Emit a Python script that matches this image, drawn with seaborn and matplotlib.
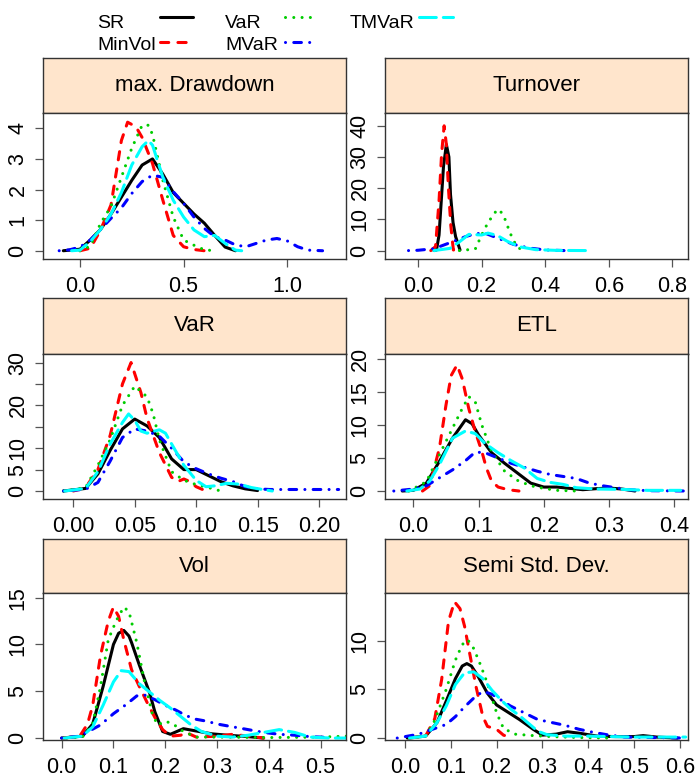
import matplotlib
matplotlib.use("Agg")
import matplotlib.pyplot as plt
from matplotlib.lines import Line2D
import pandas as pd
import seaborn as sns

# ---- strategies, colours and line types -------------------------------
STRATEGIES = ["SR", "MinVol", "VaR", "MVaR", "TMVaR"]
COLORS = ["#000000", "#FF0000", "#00CD00", "#0000FF", "#00FFFF"]
DASHES = ["", (2.7, 3.0), (0.01, 2.7), (0.01, 2.7, 2.5, 2.7), (5.5, 2.3)]

# ---- estimated density curves (x grid, density) per measure --------------
drawdown = {
    "SR": ([-0.08, 0.0, 0.05, 0.1, 0.15, 0.2, 0.25, 0.3, 0.35, 0.4, 0.45, 0.5, 0.55, 0.6, 0.65, 0.7, 0.75],
           [0.0, 0.05, 0.35, 0.7, 1.2, 1.75, 2.3, 2.8, 3.0, 2.5, 1.9, 1.55, 1.2, 0.9, 0.5, 0.12, 0.0]),
    "MinVol": ([0.0, 0.05, 0.1, 0.15, 0.2, 0.23, 0.27, 0.3, 0.35, 0.4, 0.45, 0.5, 0.55, 0.6],
               [0.0, 0.08, 0.68, 1.5, 3.6, 4.2, 4.05, 3.7, 2.85, 1.65, 0.5, 0.13, 0.04, 0.0]),
    "VaR": ([0.0, 0.05, 0.1, 0.15, 0.2, 0.25, 0.3, 0.33, 0.35, 0.4, 0.45, 0.5, 0.55, 0.6, 0.65],
            [0.0, 0.15, 0.9, 1.45, 2.4, 3.35, 4.1, 4.1, 3.8, 2.3, 1.1, 0.35, 0.18, 0.03, 0.0]),
    "MVaR": ([-0.1, -0.05, 0.0, 0.05, 0.1, 0.15, 0.2, 0.25, 0.3, 0.35, 0.4, 0.45, 0.5, 0.55, 0.6, 0.65,
              0.7, 0.75, 0.8, 0.85, 0.9, 0.95, 1.0, 1.05, 1.1, 1.17],
             [0.0, 0.03, 0.12, 0.35, 0.7, 1.06, 1.4, 1.87, 2.26, 2.47, 2.4, 1.93, 1.55, 1.1, 0.73, 0.46,
              0.35, 0.19, 0.13, 0.24, 0.35, 0.4, 0.32, 0.13, 0.02, 0.0]),
    "TMVaR": ([-0.04, 0.0, 0.05, 0.1, 0.15, 0.2, 0.25, 0.3, 0.33, 0.35, 0.4, 0.45, 0.5, 0.55, 0.6, 0.65, 0.7, 0.75, 0.78],
              [0.0, 0.02, 0.3, 0.7, 1.2, 1.9, 2.8, 3.4, 3.6, 3.45, 2.4, 1.65, 1.1, 0.68, 0.46, 0.5, 0.24, 0.02, 0.0]),
}

turnover = {
    "SR": ([0.05, 0.058, 0.066, 0.08, 0.089, 0.097, 0.102, 0.11, 0.118, 0.132],
           [0.0, 0.2, 5.0, 27.0, 34.0, 30.0, 18.0, 9.0, 4.5, 0.2]),
    "MinVol": ([0.04, 0.055, 0.066, 0.074, 0.082, 0.089, 0.095, 0.103, 0.111, 0.12],
               [0.0, 1.3, 16.0, 31.0, 40.0, 34.0, 21.0, 8.0, 0.2, 0.0]),
    "VaR": ([0.13, 0.18, 0.2, 0.22, 0.245, 0.255, 0.27, 0.29, 0.31, 0.33],
            [0.0, 0.5, 5.0, 9.0, 12.6, 13.2, 11.0, 5.5, 1.3, 0.0]),
    "MVaR": ([-0.03, 0.0, 0.05, 0.1, 0.15, 0.18, 0.21, 0.25, 0.3, 0.35, 0.4, 0.46],
             [0.0, 0.1, 0.6, 2.5, 4.5, 5.4, 5.6, 4.0, 2.0, 0.8, 0.2, 0.0]),
    "TMVaR": ([0.05, 0.1, 0.13, 0.16, 0.2, 0.22, 0.25, 0.28, 0.32, 0.37, 0.44, 0.54],
              [0.0, 0.7, 2.8, 5.2, 5.0, 5.6, 4.8, 3.0, 1.2, 0.3, 0.05, 0.0]),
}

var_ = {
    "SR": ([-0.008, 0.01, 0.02, 0.03, 0.04, 0.05, 0.06, 0.07, 0.08, 0.09, 0.1, 0.11, 0.12, 0.13, 0.14, 0.15],
           [0.0, 0.6, 4.0, 9.5, 14.5, 16.8, 15.2, 12.5, 7.5, 5.0, 5.0, 3.6, 2.2, 1.2, 0.5, 0.1]),
    "MinVol": ([0.0, 0.01, 0.02, 0.03, 0.04, 0.047, 0.055, 0.06, 0.07, 0.08, 0.085, 0.09, 0.095, 0.1, 0.108],
               [0.0, 0.8, 5.0, 13.0, 25.0, 30.0, 23.0, 17.0, 9.0, 3.2, 2.2, 2.8, 2.2, 1.0, 0.0]),
    "VaR": ([-0.008, 0.01, 0.02, 0.03, 0.04, 0.05, 0.06, 0.065, 0.07, 0.08, 0.09, 0.1, 0.11, 0.12],
            [0.0, 0.8, 6.0, 12.0, 20.0, 24.5, 22.0, 18.0, 12.0, 4.5, 2.5, 1.5, 0.8, 0.0]),
    "MVaR": ([-0.008, 0.01, 0.02, 0.03, 0.04, 0.05, 0.06, 0.07, 0.08, 0.09, 0.1, 0.11, 0.12, 0.13,
              0.14, 0.15, 0.16, 0.18, 0.2, 0.216],
             [0.0, 0.4, 2.0, 7.0, 12.5, 14.5, 14.0, 12.8, 10.0, 6.8, 5.2, 4.0, 3.0, 2.2,
              1.0, 0.5, 0.35, 0.35, 0.35, 0.35]),
    "TMVaR": ([-0.007, 0.01, 0.02, 0.03, 0.04, 0.045, 0.05, 0.055, 0.06, 0.07, 0.075, 0.08, 0.09, 0.1,
               0.108, 0.115, 0.125, 0.135, 0.145, 0.155, 0.162],
              [0.0, 0.6, 4.5, 11.0, 16.0, 18.0, 16.5, 14.0, 13.5, 14.3, 13.5, 11.0, 6.0, 2.5,
               1.0, 1.2, 1.8, 1.6, 0.8, 0.3, 0.0]),
}

etl = {
    "SR": ([-0.017, 0.0, 0.02, 0.04, 0.06, 0.08, 0.09, 0.1, 0.12, 0.14, 0.16, 0.18, 0.2, 0.22, 0.24,
            0.26, 0.28, 0.3, 0.32, 0.34],
           [0.0, 0.1, 1.2, 4.5, 8.0, 10.8, 10.2, 8.5, 5.8, 4.2, 2.7, 1.2, 0.6, 0.6, 0.4,
            0.2, 0.35, 0.45, 0.3, 0.0]),
    "MinVol": ([0.014, 0.025, 0.04, 0.05, 0.058, 0.067, 0.075, 0.085, 0.095, 0.105, 0.112, 0.12, 0.13, 0.145, 0.162],
               [0.0, 0.8, 6.5, 13.0, 17.5, 19.1, 17.0, 12.5, 9.0, 6.0, 3.5, 1.5, 0.6, 0.2, 0.0]),
    "VaR": ([-0.007, 0.02, 0.04, 0.06, 0.075, 0.085, 0.095, 0.105, 0.12, 0.14, 0.16, 0.18, 0.2, 0.22, 0.25],
            [0.0, 1.4, 5.5, 9.5, 12.5, 14.3, 13.5, 10.0, 6.0, 3.0, 1.6, 0.8, 0.4, 0.1, 0.0]),
    "MVaR": ([-0.03, 0.0, 0.02, 0.04, 0.06, 0.08, 0.095, 0.11, 0.13, 0.15, 0.17, 0.19, 0.21, 0.23,
              0.25, 0.27, 0.29, 0.31, 0.33, 0.36, 0.42],
             [0.0, 0.3, 0.8, 2.0, 3.2, 4.6, 5.9, 5.8, 5.0, 4.2, 3.6, 3.0, 2.5, 2.2,
              1.9, 1.2, 0.8, 0.5, 0.2, 0.05, 0.0]),
    "TMVaR": ([-0.01, 0.01, 0.025, 0.04, 0.06, 0.08, 0.095, 0.11, 0.13, 0.15, 0.17, 0.19, 0.21, 0.23,
               0.25, 0.28, 0.32, 0.36, 0.41],
              [0.0, 0.3, 1.5, 4.0, 8.0, 9.1, 8.7, 7.2, 5.8, 4.6, 3.5, 1.9, 1.3, 1.0,
               0.5, 0.3, 0.25, 0.1, 0.1]),
}

vol = {
    "SR": ([0.0, 0.04, 0.06, 0.08, 0.1, 0.11, 0.12, 0.13, 0.135, 0.15, 0.17, 0.18, 0.195, 0.21, 0.235, 0.26,
            0.29, 0.32, 0.36, 0.39],
           [0.0, 0.2, 1.5, 5.5, 10.0, 11.2, 11.5, 10.9, 10.2, 7.8, 4.8, 2.8, 0.7, 0.4, 1.0, 0.75,
            0.45, 0.3, 0.15, 0.0]),
    "MinVol": ([0.005, 0.035, 0.05, 0.06, 0.075, 0.09, 0.1, 0.11, 0.12, 0.135, 0.15, 0.165, 0.18, 0.195,
                0.21, 0.23, 0.24, 0.26, 0.3, 0.33, 0.36, 0.39],
               [0.0, 0.2, 1.5, 3.5, 8.8, 12.5, 14.0, 13.0, 10.5, 7.3, 5.5, 3.8, 2.2, 0.9,
                0.2, 0.3, 0.6, 0.1, 0.2, 0.4, 0.2, 0.0]),
    "VaR": ([0.01, 0.04, 0.06, 0.075, 0.09, 0.105, 0.12, 0.13, 0.145, 0.16, 0.175, 0.185, 0.2, 0.215,
             0.235, 0.26, 0.3, 0.4, 0.5, 0.55],
            [0.0, 0.1, 1.5, 5.5, 10.5, 12.5, 14.0, 13.5, 10.2, 6.0, 2.6, 1.4, 1.8, 1.5,
             0.7, 0.1, 0.1, 0.05, 0.1, 0.2]),
    "MVaR": ([0.0, 0.035, 0.075, 0.1, 0.125, 0.145, 0.16, 0.18, 0.2, 0.22, 0.24, 0.26, 0.28, 0.3,
              0.33, 0.36, 0.39, 0.42, 0.45, 0.48, 0.52],
             [0.0, 0.2, 1.4, 2.6, 3.6, 4.5, 4.6, 4.1, 3.5, 3.0, 2.4, 2.0, 1.8, 1.5,
              1.2, 0.9, 0.6, 0.4, 0.3, 0.15, 0.05]),
    "TMVaR": ([0.005, 0.04, 0.06, 0.08, 0.1, 0.115, 0.13, 0.15, 0.17, 0.19, 0.21, 0.23, 0.25, 0.27,
               0.3, 0.33, 0.36, 0.39, 0.42, 0.45, 0.48, 0.52, 0.55],
              [0.0, 0.2, 1.2, 3.5, 6.0, 7.2, 7.1, 5.8, 4.9, 4.0, 3.2, 2.3, 1.4, 0.7,
               0.2, 0.1, 0.3, 0.6, 0.9, 0.6, 0.1, 0.0, 0.0]),
}

semisd = {
    "SR": ([0.005, 0.045, 0.07, 0.09, 0.11, 0.125, 0.135, 0.145, 0.16, 0.18, 0.2, 0.22, 0.25, 0.28, 0.3,
            0.33, 0.355, 0.38, 0.42, 0.46, 0.5, 0.52, 0.55, 0.595],
           [0.0, 0.2, 1.6, 3.8, 6.1, 7.4, 7.65, 7.4, 6.3, 4.6, 3.4, 2.8, 1.9, 0.9, 0.3,
            0.4, 0.65, 0.5, 0.2, 0.15, 0.15, 0.25, 0.1, 0.0]),
    "MinVol": ([0.01, 0.045, 0.065, 0.08, 0.095, 0.108, 0.12, 0.13, 0.14, 0.155, 0.17, 0.18, 0.2, 0.215, 0.235],
               [0.0, 0.2, 2.0, 6.0, 12.0, 14.0, 13.3, 11.5, 9.0, 5.3, 2.2, 1.2, 0.9, 0.3, 0.0]),
    "VaR": ([0.01, 0.045, 0.065, 0.09, 0.11, 0.125, 0.137, 0.15, 0.165, 0.18, 0.2, 0.215, 0.24, 0.28,
             0.32, 0.38, 0.45],
            [0.0, 0.2, 1.8, 5.0, 8.0, 9.6, 10.1, 9.2, 7.5, 5.6, 2.6, 1.0, 0.4, 0.25,
             0.15, 0.05, 0.0]),
    "MVaR": ([-0.017, 0.03, 0.06, 0.09, 0.11, 0.13, 0.15, 0.17, 0.19, 0.21, 0.23, 0.26, 0.29, 0.32,
              0.35, 0.38, 0.41, 0.44, 0.48, 0.55, 0.61],
             [0.0, 0.4, 0.9, 1.4, 2.2, 3.2, 4.1, 4.8, 4.5, 3.9, 3.3, 2.6, 1.9, 1.6,
              1.3, 0.9, 0.6, 0.35, 0.1, 0.05, 0.0]),
    "TMVaR": ([0.01, 0.045, 0.07, 0.09, 0.11, 0.13, 0.15, 0.17, 0.19, 0.21, 0.23, 0.25, 0.27, 0.29,
               0.31, 0.35, 0.4, 0.5, 0.613],
              [0.0, 0.2, 1.6, 3.3, 5.5, 6.7, 6.8, 6.1, 4.9, 3.9, 3.0, 2.3, 1.5, 0.7,
               0.35, 0.2, 0.2, 0.1, 0.1]),
}

PANEL_TITLES = ["max. Drawdown", "Turnover", "VaR", "ETL", "Vol", "Semi Std. Dev."]
PANEL_DATA = [drawdown, turnover, var_, etl, vol, semisd]
X_LIMITS = [(-0.178, 1.283), (-0.104, 0.849), (-0.0247, 0.222), (-0.0435, 0.4213), (-0.036, 0.549), (-0.0437, 0.618)]
Y_LIMITS = [(-0.27, 4.5), (-2.7, 44.1), (-1.87, 32.0), (-1.21, 20.76), (-0.21, 15.5), (-0.2, 14.9)]
X_TICKS = [[0.0, 0.5, 1.0], [0.0, 0.2, 0.4, 0.6, 0.8], [0.0, 0.05, 0.10, 0.15, 0.20],
           [0.0, 0.1, 0.2, 0.3, 0.4], [0.0, 0.1, 0.2, 0.3, 0.4, 0.5], [0.0, 0.1, 0.2, 0.3, 0.4, 0.5, 0.6]]
X_FMT = ["{:.1f}", "{:.1f}", "{:.2f}", "{:.1f}", "{:.1f}", "{:.1f}"]
Y_TICKS = [[0, 1, 2, 3, 4], [0, 10, 20, 30, 40], [0, 5, 10, 15, 20, 25, 30],
           [0, 5, 10, 15, 20], [0, 5, 10, 15], [0, 5, 10]]
Y_LABELS = [["0", "1", "2", "3", "4"], ["0", "10", "20", "30", "40"], ["0", "5", "10", "", "20", "", "30"],
            ["0", "5", "10", "15", "20"], ["0", "5", "10", "15"], ["0", "5", "10"]]

# ---- figure ----------------------------------------------------------------
sns.set_theme(style="white")
plt.rcParams["font.family"] = ["Liberation Sans", "DejaVu Sans"]
plt.rcParams["text.color"] = "#000000"

W, H = 698, 778
fig = plt.figure(figsize=(W / 100, H / 100), dpi=100)
fig.patch.set_facecolor("white")

COL_X = [(43, 346), (385, 688)]
ROW_Y = [(58, 113, 259), (298, 354, 499), (539, 593, 740)]
STRIP_FILL = "#FFE5CC"
FRAME = "#333333"


def fig_rect(x0, y0, x1, y1):
    return [x0 / W, 1 - y1 / H, (x1 - x0) / W, (y1 - y0) / H]


palette = dict(zip(STRATEGIES, COLORS))
dash_map = dict(zip(STRATEGIES, DASHES))

for i, (title, data) in enumerate(zip(PANEL_TITLES, PANEL_DATA)):
    r, c = divmod(i, 2)
    x0, x1 = COL_X[c]
    ys, ym, yb = ROW_Y[r]

    # strip with the measure name
    sax = fig.add_axes(fig_rect(x0, ys, x1, ym))
    sax.set_facecolor(STRIP_FILL)
    sax.set_xticks([])
    sax.set_yticks([])
    for sp in sax.spines.values():
        sp.set_color(FRAME)
        sp.set_linewidth(1.0)
    sax.text(0.5, 0.5, title, ha="center", va="center", fontsize=16, color="#000000",
             transform=sax.transAxes)

    # density panel
    ax = fig.add_axes(fig_rect(x0, ym, x1, yb))
    frames = []
    for s in STRATEGIES:
        xs, dens = data[s]
        frames.append(pd.DataFrame({"x": xs, "density": dens, "strategy": s}))
    df = pd.concat(frames, ignore_index=True)
    sns.lineplot(data=df, x="x", y="density", hue="strategy", style="strategy",
                 hue_order=STRATEGIES, style_order=STRATEGIES, palette=palette,
                 dashes=dash_map, estimator=None, sort=False, linewidth=2.2,
                 legend=False, ax=ax)
    for line in ax.get_lines():
        line.set_dash_capstyle("round")
        line.set_solid_capstyle("round")
        line.set_solid_joinstyle("round")
        line.set_dash_joinstyle("round")

    ax.set_xlim(*X_LIMITS[i])
    ax.set_ylim(*Y_LIMITS[i])
    ax.set_xticks(X_TICKS[i])
    ax.set_xticklabels([X_FMT[i].format(v) for v in X_TICKS[i]])
    ax.set_yticks(Y_TICKS[i])
    ax.set_yticklabels(Y_LABELS[i], rotation=90, va="center")
    ax.set_xlabel("")
    ax.set_ylabel("")
    ax.set_facecolor("white")
    ax.grid(False)
    for sp in ax.spines.values():
        sp.set_color(FRAME)
        sp.set_linewidth(1.0)
    ax.tick_params(axis="both", which="major", direction="out", length=5.5, width=0.9,
                   color="#555555", labelsize=15.5, labelcolor="#000000")
    ax.tick_params(axis="x", pad=7)
    ax.tick_params(axis="y", pad=5)
    ax.tick_params(bottom=True, left=True, top=False, right=False)

# ---- key above the panels --------------------------------------------------
KEY_ROWS = [28, 50]
KEY_LINE_Y = [17, 42]
KEY_TEXT_X = [97, 225, 350]
KEY_LINE_X = [(160, 193), (285, 315), (419, 453)]
key_slots = [(0, 0), (0, 1), (1, 0), (1, 1), (2, 0)]
for s, col, ls, (kc, kr) in zip(STRATEGIES, COLORS, DASHES, key_slots):
    fig.text(KEY_TEXT_X[kc] / W, 1 - KEY_ROWS[kr] / H, s, ha="left", va="baseline",
             fontsize=14, color="#000000")
    lx0, lx1 = KEY_LINE_X[kc]
    ln = Line2D([lx0 / W, lx1 / W], [1 - KEY_LINE_Y[kr] / H] * 2, transform=fig.transFigure,
                color=col, linewidth=2.2, solid_capstyle="round", dash_capstyle="round")
    if ls:
        ln.set_dashes(ls)
    fig.add_artist(ln)

fig.savefig("out.png", dpi=100, facecolor="white")
